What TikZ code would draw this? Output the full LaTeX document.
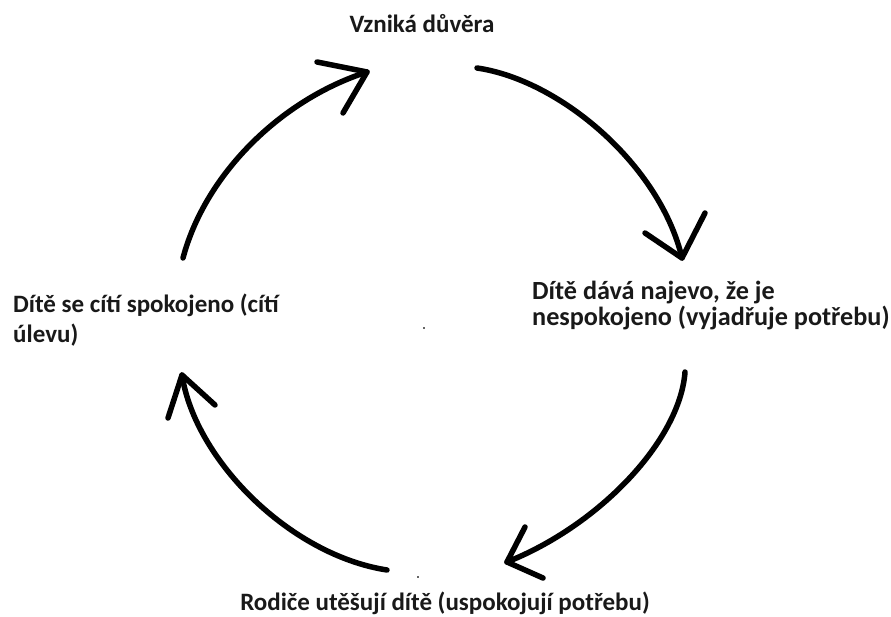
\documentclass[tikz,border=0pt]{standalone}
\usepackage{fontspec}
\setmainfont{Carlito}
\begin{document}
\begin{tikzpicture}[x=1pt,y=-1pt,
  lbl/.style={inner sep=0pt,font=\bfseries\fontsize{25}{30}\selectfont,text=black!90},
  lblr/.style={lbl,font=\bfseries\fontsize{26.2}{30}\selectfont},
  stroke/.style={line width=5.5pt,line cap=round,line join=round,black}]
\useasboundingbox[fill=white] (0,0) rectangle (891,617);
% labels
\node[lbl,anchor=base] (top) at (422,33) {Vzniká důvěra};
\node[lblr,anchor=base west] (r1) at (532,300) {Dítě dává najevo, že je};
\node[lblr,anchor=base west] (r2) at (532,326) {nespokojeno (vyjadřuje potřebu)};
\node[lbl,anchor=base west] (l1) at (13,313) {Dítě se cítí spokojeno (cítí};
\node[lbl,anchor=base west] (l2) at (13,342) {úlevu)};
\node[lbl,anchor=base] (bot) at (445,610) {Rodiče utěšují dítě (uspokojují potřebu)};
% arrow end points
\coordinate (a1s) at (183,258); \coordinate (a1t) at (367,72);
\coordinate (a2s) at (477,68);  \coordinate (a2t) at (682,258);
\coordinate (a3s) at (685,372); \coordinate (a3t) at (507,562);
\coordinate (a4s) at (387,570); \coordinate (a4t) at (182,375);
% arrows
\draw[stroke] (a1s) .. controls (205,175) and (280,100) .. (a1t);
\draw[stroke] (317,62) -- (a1t) -- (343,113);
\draw[stroke] (a2s) .. controls (560,80) and (660,165) .. (a2t);
\draw[stroke] (645,233) -- (a2t) -- (705,213);
\draw[stroke] (a3s) .. controls (680,440) and (600,525) .. (a3t);
\draw[stroke] (525,527) -- (a3t) -- (543,578);
\draw[stroke] (a4s) .. controls (290,555) and (195,460) .. (a4t);
\draw[stroke] (168,418) -- (a4t) -- (215,405);
% stray specks
\fill[black!60] (423,327) rectangle (425,329);
\fill[black!60] (417,576) rectangle (419,578);
\end{tikzpicture}
\end{document}
